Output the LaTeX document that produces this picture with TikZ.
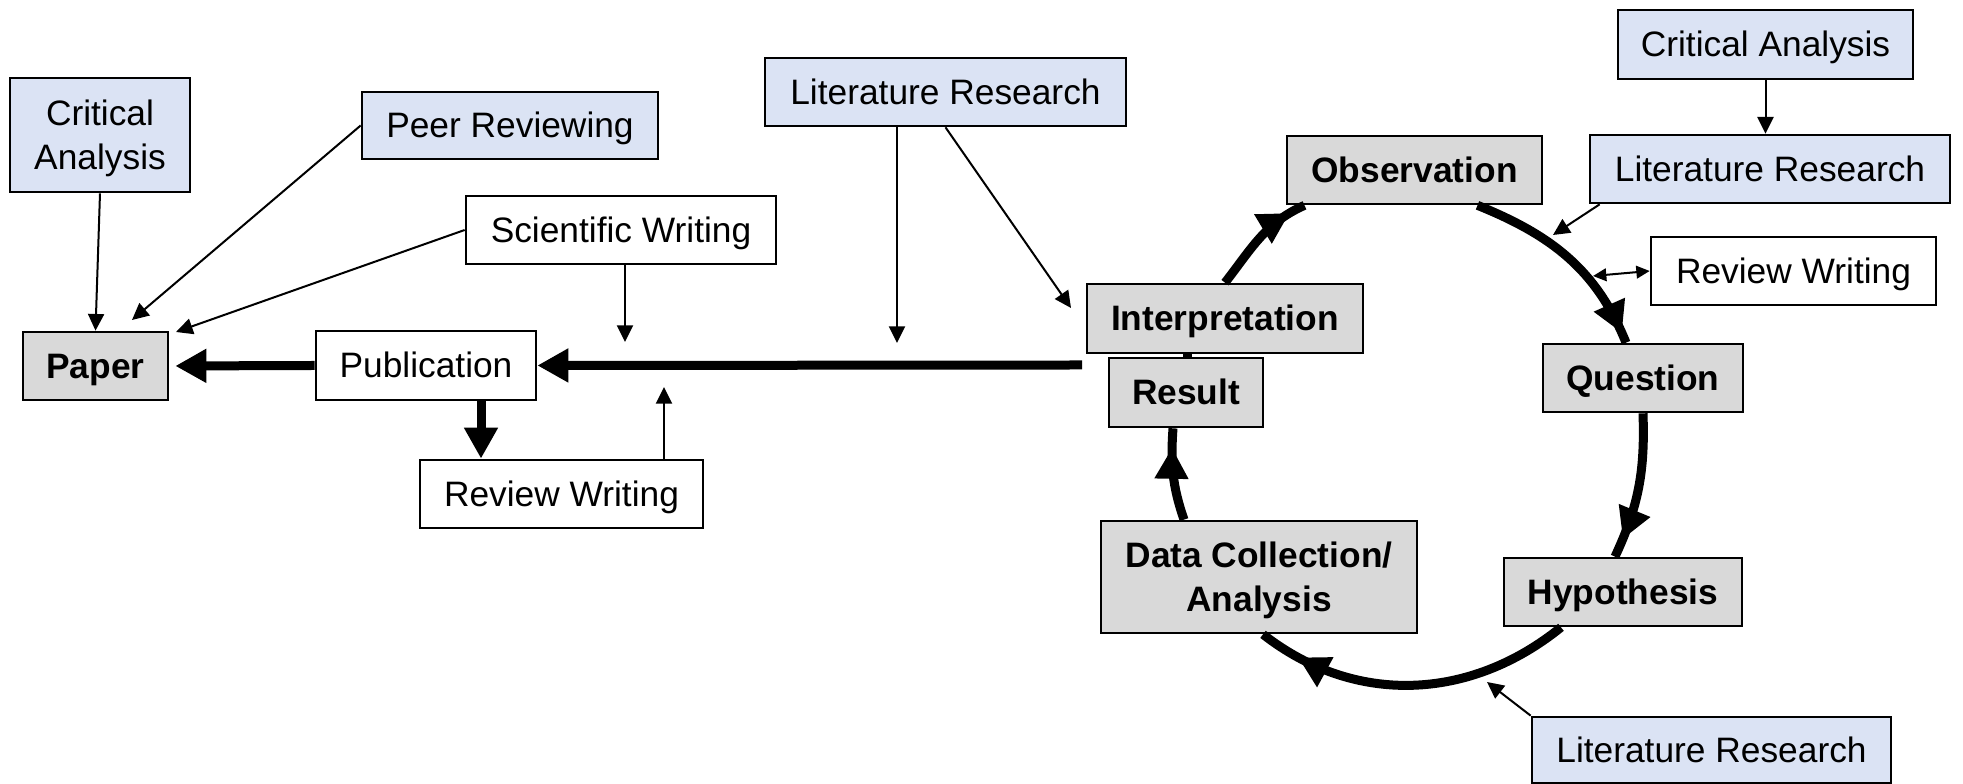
\documentclass[tikz,border=0pt]{standalone}
\usepackage{fontspec}
\setmainfont{Liberation Sans}
\usetikzlibrary{arrows.meta,calc,decorations.markings}
\definecolor{boxblue}{RGB}{219,227,244}
\definecolor{boxgrey}{RGB}{217,217,217}
\newcommand{\firststrut}{\rule{0pt}{9.6pt}}
\tikzset{
 base/.style={draw=black, line width=0.8pt, inner sep=0pt, align=center, font=\fontsize{10.6}{13.2}\selectfont},
 oneline/.style={text height=9.7pt, text depth=2.2pt},
 bluebox/.style={base, fill=boxblue},
 whitebox/.style={base, fill=white},
 greybox/.style={base, fill=boxgrey, font=\fontsize{10.6}{13.2}\selectfont\bfseries},
 thinarrow/.style={line width=0.6pt, -{Triangle[length=5pt,width=4.8pt]}},
 thickarrow/.style={line width=2.7pt, -{Triangle[length=9.3pt,width=9.6pt]}},
 cyc/.style={line width=2.7pt},
 midtip/.style={postaction={decorate}, decoration={markings, mark=at position #1 with {\arrow{Triangle[length=9.3pt,width=9.6pt]}}}},
}
\begin{document}
\begin{tikzpicture}[x=0.3pt,y=0.3pt]
\useasboundingbox (0,0) rectangle (1963,-784);
\fill[white] (0,0) rectangle (1963,-784);
% nodes
\node[bluebox, minimum width=54pt, minimum height=34.2pt] (critL) at (100,-135) {\firststrut Critical\\Analysis};
\node[bluebox, oneline, minimum width=88.8pt, minimum height=20.1pt] (peer) at (510,-125.5) {Peer Reviewing};
\node[whitebox, oneline, minimum width=93pt, minimum height=20.4pt] (sciw) at (621,-230) {Scientific Writing};
\node[greybox, oneline, minimum width=43.5pt, minimum height=20.4pt] (paper) at (95.5,-366) {Paper};
\node[whitebox, oneline, minimum width=66pt, minimum height=20.7pt] (pub) at (426,-365.5) {Publication};
\node[whitebox, oneline, minimum width=84.9pt, minimum height=20.4pt] (revL) at (561.5,-494) {Review Writing};
\node[bluebox, oneline, minimum width=108.3pt, minimum height=20.4pt] (litT) at (945.5,-92) {Literature Research};
\node[greybox, oneline, minimum width=82.8pt, minimum height=20.7pt] (interp) at (1225,-318.5) {Interpretation};
\node[greybox, oneline, minimum width=46.2pt, minimum height=20.7pt] (result) at (1186,-392.5) {Result};
\node[greybox, oneline, minimum width=76.5pt, minimum height=20.4pt] (obs) at (1414.5,-170) {Observation};
\node[bluebox, oneline, minimum width=88.5pt, minimum height=20.7pt] (critR) at (1765.5,-44.5) {Critical Analysis};
\node[bluebox, oneline, minimum width=108pt, minimum height=20.4pt] (litR) at (1770,-169) {Literature Research};
\node[whitebox, oneline, minimum width=85.5pt, minimum height=20.4pt] (revR) at (1793.5,-271) {Review Writing};
\node[greybox, oneline, minimum width=60pt, minimum height=20.4pt] (question) at (1643,-378) {Question};
\node[greybox, oneline, minimum width=71.4pt, minimum height=20.4pt] (hyp) at (1623,-592) {Hypothesis};
\node[greybox, minimum width=94.8pt, minimum height=33.6pt] (data) at (1259,-577) {\firststrut Data Collection/\\Analysis};
\node[bluebox, oneline, minimum width=107.7pt, minimum height=19.8pt] (litB) at (1711.5,-750) {Literature Research};
% coordinates
\coordinate (mainStart) at (1082,-365);
\coordinate (xA) at (481,0);
\coordinate (tipPeer) at (132,-320);
\coordinate (tipSci) at (176,-332);
\coordinate (tipSciDown) at (625,-342);
\coordinate (tipLitDown) at (897,-343);
\coordinate (tipLitInt) at (1071,-308);
\coordinate (tipRevUp) at (664,-387);
\coordinate (tipLitR) at (1553,-235);
\coordinate (tipRevR) at (1593,-276);
\coordinate (tipLitB) at (1487,-682);
% thick arrows
\draw[thickarrow] (mainStart) -- (pub.east);
\draw[thickarrow, shorten >=1.8pt] (pub.west) -- (paper.east);
\draw[thickarrow] (pub.south -| xA) -- (revL.north -| xA);
% thin arrows
\draw[thinarrow] (critL.south) -- (paper.north);
\draw[thinarrow] (peer.west) -- (tipPeer);
\draw[thinarrow] (sciw.west) -- (tipSci);
\draw[thinarrow] (sciw.south -| tipSciDown) -- (tipSciDown);
\draw[thinarrow] (litT.south -| tipLitDown) -- (tipLitDown);
\draw[thinarrow] (litT.south) -- (tipLitInt);
\draw[thinarrow] (revL.north -| tipRevUp) -- (tipRevUp);
\draw[thinarrow] (critR.south) -- (critR.south |- litR.north);
\draw[thinarrow] ($(litR.south west)+(11,0)$) -- (tipLitR);
\draw[line width=0.6pt, {Triangle[length=4pt,width=3.8pt]}-{Triangle[length=4pt,width=3.8pt]}] (revR.west) -- (tipRevR);
\draw[thinarrow] (litB.north west) -- (tipLitB);
% cycle
\draw[cyc, midtip=0.85] (interp.north) to[out=52,in=204] ($(obs.south)+(-110,0)$);
\draw[cyc, midtip=0.95] ($(obs.south)+(63,0)$) to[out=-22,in=112] ($(question.north)+(-17,0)$);
\draw[cyc, midtip=0.87] (question.south) to[out=-88,in=65] ($(hyp.north)+(-8,0)$);
\draw[cyc, midtip=0.87] ($(hyp.south)+(-62,0)$) to[out=219,in=-38] ($(data.south)+(4,0)$);
\draw[cyc, midtip=0.79] ($(data.north)+(-75,0)$) to[out=109,in=266] ($(result.south)+(-13,0)$);
\draw[cyc] ($(result.north)+(1,0)$) -- ($(interp.south)+(-38,0)$);
\end{tikzpicture}
\end{document}
